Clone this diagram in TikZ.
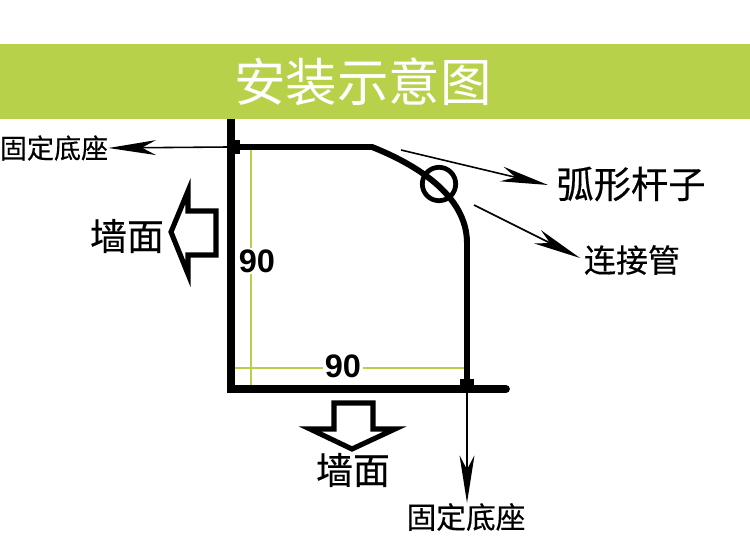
\documentclass[tikz,border=0pt]{standalone}
\usepackage{fontspec}
\setmainfont{Noto Sans CJK SC}
\newfontfamily\numfont{Liberation Sans}
\newfontfamily\heavyfont[FakeBold=0.35]{Noto Sans CJK SC}
\usetikzlibrary{arrows.meta}
\definecolor{bandgreen}{HTML}{B8D14A}
\tikzset{
  px/.style={x=0.02cm,y=-0.02cm},
  pipe/.style={line width=3.4pt,line join=miter},
  wallline/.style={line width=4.4pt},
  guide/.style={line width=1.2pt,bandgreen},
  pointer/.style={-{Stealth[length=27pt,width=8.5pt,inset=8pt]},line width=0.9pt},
  hollow/.style={line width=2.9pt,line join=miter,miter limit=12},
  base/.style={fill=black,minimum size=0pt,inner sep=0pt},
  small label/.style={inner sep=0pt,font=\fontsize{15.4pt}{16pt}\selectfont\heavyfont},
  wall label/.style={inner sep=0pt,font=\fontsize{21pt}{21pt}\selectfont\heavyfont},
  size label/.style={inner sep=1pt,fill=white,font=\fontsize{18.5pt}{19pt}\selectfont\numfont\bfseries}
}
\begin{document}
\begin{tikzpicture}[px]

\useasboundingbox (0,0) rectangle (750,537);

% Draw the title band
\fill[bandgreen] (0,44) rectangle (750,119);
\node[inner sep=0pt,text=white,font=\fontsize{29.3pt}{30pt}\selectfont] (title) at (363,82) {安装示意图};

% Draw the green size lines
\coordinate (guidetop) at (251,147);
\coordinate (guidebot) at (251,389);
\coordinate (guideleft) at (233,368);
\coordinate (guideright) at (466,368);
\draw[guide] (guidetop) -- (guidebot);
\draw[guide] (guideleft) -- (guideright);
\node[size label] (sizev) at (257,261) {90};
\node[size label] (sizeh) at (343,366) {90};

% Draw the walls
\coordinate (walltop) at (231,119);
\coordinate (wallcorner) at (231,389);
\coordinate (wallend) at (506,389);
\draw[wallline] (walltop) -- (wallcorner);
\draw[wallline,line cap=round] (wallcorner) -- (wallend);
\fill (227,385) rectangle (235,393);

% Draw the fixed bases
\node[base,minimum width=6.5pt,minimum height=8pt] (basea) at (234,147) {};
\node[base,minimum width=8pt,minimum height=6.5pt] (baseb) at (467,385) {};

% Draw the curved pipe
\coordinate (bendstart) at (372,147);
\coordinate (bendend) at (467,243);
\draw[pipe] (basea) -- (bendstart) .. controls (415,164) and (467,195) .. (bendend) -- (baseb);

% Draw the connector ring
\node[draw,circle,line width=2.7pt,minimum size=19pt,inner sep=0pt] (ring) at (439,184) {};

% Draw the labels
\node[small label] (labela) at (54,148) {固定底座};
\node[small label,font=\fontsize{16.9pt}{17pt}\selectfont\heavyfont] (labelb) at (466,517) {固定底座};
\node[inner sep=0pt,font=\fontsize{21.2pt}{22pt}\selectfont\heavyfont] (labelpipe) at (631,184) {弧形杆子};
\node[inner sep=0pt,font=\fontsize{18.2pt}{18pt}\selectfont\heavyfont] (labeljoin) at (632,260) {连接管};
\node[wall label] (wallleft) at (127,236) {墙面};
\node[wall label] (wallbot) at (353,470) {墙面};

% Draw and label the pointers
\coordinate (tippipe) at (548,185);
\coordinate (fromring) at (401,150);
\coordinate (tipjoin) at (580,258);
\coordinate (fromjoin) at (474,205);
\draw[pointer] (basea.west) -- (labela.east);
\draw[pointer] (baseb.south) -- (labelb.north -| baseb.south);
\draw[pointer] (fromring) -- (tippipe);
\draw[pointer] (fromjoin) -- (tipjoin);

% Draw the hollow arrows towards the walls
\draw[hollow] (171,232) -- (188,191) -- (188,211) -- (216,211) -- (216,255) -- (188,255) -- (188,274) -- cycle;
\draw[hollow] (334,403) -- (373,403) -- (373,429) -- (395,429) -- (352,449) -- (310,429) -- (334,429) -- cycle;

\end{tikzpicture}
\end{document}
